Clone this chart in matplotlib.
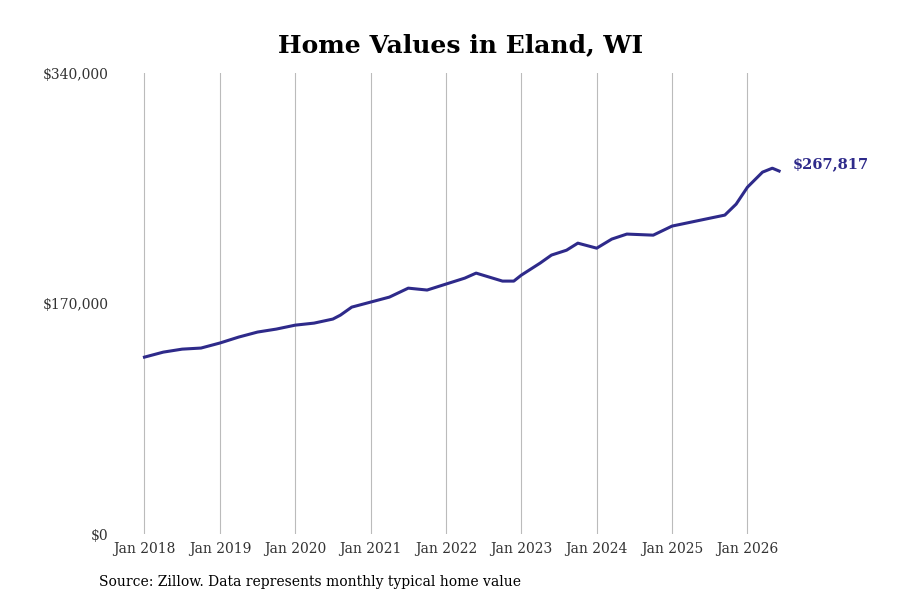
import matplotlib
matplotlib.use("Agg")
import matplotlib.pyplot as plt

dates = [2018.0, 2018.25, 2018.5, 2018.75, 2019.0, 2019.25, 2019.5, 2019.75, 2020.0, 2020.25,
         2020.5, 2020.6, 2020.75, 2021.0, 2021.25, 2021.5, 2021.75, 2022.0, 2022.25, 2022.4,
         2022.75, 2022.9, 2023.0, 2023.25, 2023.4, 2023.6, 2023.75, 2024.0, 2024.2, 2024.4,
         2024.75, 2025.0, 2025.25, 2025.5, 2025.7, 2025.85, 2026.0, 2026.2, 2026.33, 2026.42]
values = [130500, 134200, 136400, 137200, 140900, 145300, 149000, 151200, 154100, 155600,
          158600, 161500, 167400, 171100, 174800, 181400, 180000, 184400, 188800, 192500,
          186600, 186600, 191000, 199900, 205800, 209400, 214600, 210900, 217600, 221300,
          220500, 227200, 230100, 233000, 235300, 243400, 255900, 267000, 269900, 267817]
year_ticks = list(range(2018, 2027))
year_labels = [f"Jan {y}" for y in year_ticks]
y_ticks = [0, 170000, 340000]
y_labels = ["$0", "$170,000", "$340,000"]

plt.rcParams['font.family'] = ['DejaVu Serif']
fig = plt.figure(figsize=(9, 6), dpi=100)
ax = fig.add_axes([0.125, 0.11, 0.775, 0.768])
color = "#2e2a8a"
ax.plot(dates, values, color=color, lw=2.2, solid_joinstyle='round')
ax.set_xlim(2017.576, 2026.83)
ax.set_ylim(0, 340000)
ax.set_xticks(year_ticks)
ax.set_xticklabels(year_labels, fontsize=10, color="#333333")
ax.set_yticks(y_ticks)
ax.set_yticklabels(y_labels, fontsize=10, color="#333333")
ax.grid(axis='x', color="#bbbbbb", lw=0.8)
ax.tick_params(axis='x', length=0, pad=6)
ax.tick_params(axis='y', length=0, pad=3)
for s in ax.spines.values():
    s.set_visible(False)
ax.text(dates[-1] + 0.18, values[-1] + 5000, "$267,817", color=color, fontsize=10.5,
        fontweight='bold', va='center', ha='left')
fig.text(0.512, 0.925, "Home Values in Eland, WI", ha='center', va='center',
         fontsize=18, fontweight='bold')
fig.text(0.11, 0.03, "Source: Zillow. Data represents monthly typical home value",
         fontsize=10, ha='left', va='center')
fig.savefig("out.png", dpi=100)
